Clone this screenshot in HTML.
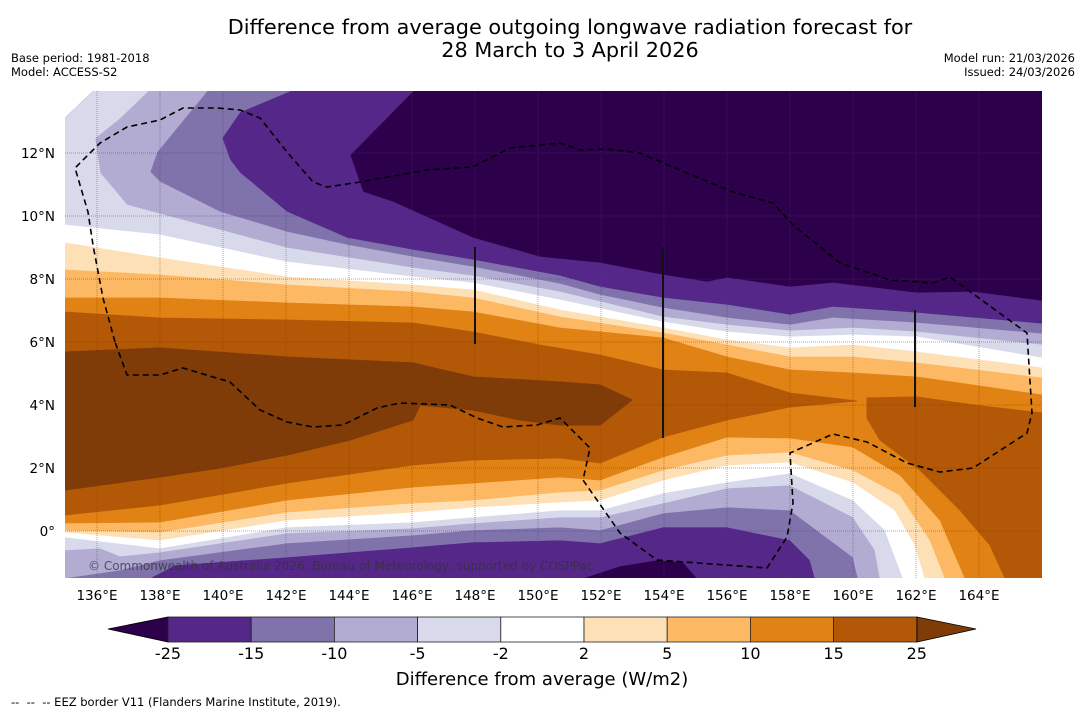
<!DOCTYPE html>
<html><head><meta charset="utf-8"><style>
html,body{margin:0;padding:0;background:#fff;}
svg{display:block;font-family:"DejaVu Sans","Liberation Sans",sans-serif;}
</style></head><body>
<svg id="chart" width="1085" height="713" viewBox="0 0 1085 713" xmlns="http://www.w3.org/2000/svg">
<defs><clipPath id="mapclip"><polygon points="65,118 93,91 1042,91 1042,578 65,578"/></clipPath></defs>
<g>
<text x="570" y="34" font-size="20.8" text-anchor="middle" fill="#000">Difference from average outgoing longwave radiation forecast for</text>
<text x="570" y="57" font-size="20.8" text-anchor="middle" fill="#000">28 March to 3 April 2026</text>
</g>
<text x="11" y="62" font-size="11.5">Base period: 1981-2018</text>
<text x="11" y="76" font-size="11.5">Model: ACCESS-S2</text>
<text x="1075" y="62" font-size="11.5" text-anchor="end">Model run: 21/03/2026</text>
<text x="1075" y="76" font-size="11.5" text-anchor="end">Issued: 24/03/2026</text>
<g id="map" clip-path="url(#mapclip)"></g>
<g id="overlay"></g>
<g id="axes"></g>
<g id="cbar"></g>
<text x="542" y="685" font-size="18" text-anchor="middle">Difference from average (W/m2)</text>
<text x="11" y="706" font-size="11.5" xml:space="preserve">--  --  -- EEZ border V11 (Flanders Marine Institute, 2019).</text>
</svg>
<script>
// ---- data ----
const levels = [-25,-15,-10,-5,-2,2,5,10,15,25];
const bandColors = ["#2d004b","#542788","#8073ac","#b2abd2","#d8daeb","#ffffff","#fee0b6","#fdb863","#e08214","#b35806","#7f3b08"];
const cbarLabels = ["-25","-15","-10","-5","-2","2","5","10","15","25"];
const lonTicks = [136,138,140,142,144,146,148,150,152,154,156,158,160,162,164];
const latTicks = [0,2,4,6,8,10,12];
// contour boundaries (map pixel coordinates), top edge of region > level
const topM25 = [[65,91],[413,91],[350,155],[363,192],[393,202],[473,238],[540,257],[600,263],[663,275],[707,282],[727,278],[790,287],[833,283],[917,293],[973,292],[1042,301]];
const topM15 = [[65,91],[290,91],[240,112],[222,138],[230,160],[240,173],[287,212],[347,238],[413,250],[473,260],[560,276],[600,287],[663,298],[727,305],[790,315],[833,307],[917,313],[1042,324]];
const topM10 = [[65,91],[207,91],[157,152],[150,172],[160,182],[220,212],[287,232],[347,245],[413,257],[473,267],[560,284],[600,295],[663,308],[727,318],[790,325],[833,318],[917,323],[1042,334]];
const topM5 = [[65,91],[148,91],[120,118],[95,138],[100,173],[127,205],[160,214],[220,230],[287,248],[413,268],[473,276],[560,292],[663,317],[727,325],[790,331],[853,328],[917,332],[1042,345]];
const topM2 = [[65,225],[160,235],[287,262],[413,277],[473,283],[560,300],[663,322],[727,332],[790,337],[853,335],[917,337],[1042,358]];
const topP2 = [[65,243],[160,258],[287,277],[413,285],[473,290],[560,310],[663,328],[727,340],[790,348],[853,345],[917,352],[1042,368]];
const topP5 = [[65,270],[160,275],[287,285],[413,292],[473,298],[560,317],[663,333],[727,345],[790,357],[853,357],[917,363],[1042,378]];
const topP10 = [[65,298],[160,298],[287,303],[413,307],[473,312],[560,328],[663,338],[727,357],[790,370],[853,373],[917,377],[1042,395]];
const topP15 = [[65,312],[160,318],[287,320],[413,323],[473,332],[540,345],[600,355],[663,370],[727,373],[790,393],[857,401]];
// bottom edges (right to left)
const botM25 = [[1042,578],[697,578],[683,562],[657,560],[620,566],[583,578],[65,578]];
const botM15 = [[1042,578],[815,578],[810,560],[790,540],[727,527],[663,527],[600,543],[560,540],[473,542],[413,547],[287,557],[175,565],[150,578],[65,578]];
const botM10 = [[1042,578],[858,578],[853,557],[790,510],[727,507],[663,513],[600,530],[560,527],[473,530],[413,535],[287,543],[160,560],[120,570],[65,578]];
const botM5 = [[1042,578],[880,578],[875,550],[853,517],[790,485],[727,488],[663,503],[600,517],[560,517],[473,523],[413,528],[287,533],[160,552],[120,556],[100,548],[65,550]];
const botM2 = [[1042,578],[903,578],[885,530],[853,500],[790,473],[727,482],[663,493],[600,510],[560,510],[473,517],[413,522],[287,527],[160,548],[65,537]];
const botP2 = [[1042,578],[925,578],[915,545],[895,510],[853,482],[790,462],[727,465],[663,480],[600,500],[560,502],[473,507],[413,512],[287,520],[160,540],[65,532]];
const botP5 = [[1042,578],[945,578],[930,540],[900,495],[853,470],[790,452],[727,455],[663,470],[600,490],[560,492],[473,500],[413,503],[287,512],[160,532],[65,530]];
const botP10 = [[1042,578],[965,578],[940,520],[900,475],[853,447],[790,438],[727,437],[663,457],[600,480],[560,477],[473,483],[413,487],[287,500],[160,522],[65,523]];
const botP15 = [[857,401],[790,407],[727,420],[663,437],[600,463],[560,458],[473,460],[413,465],[287,483],[160,505],[65,515]];
const eastP15 = [[867,398],[917,397],[973,405],[1042,413],[1042,578],[1005,578],[990,545],[960,510],[920,470],[880,440],[867,418]];
const coreP25 = [[65,352],[160,348],[287,357],[413,363],[473,377],[560,382],[600,385],[632,400],[600,425],[560,425],[520,420],[473,410],[420,405],[413,420],[350,440],[287,455],[220,468],[160,477],[65,490]];
const eezPath = [[115,342],[103,298],[93,245],[88,212],[75,168],[100,143],[127,127],[160,120],[183,108],[217,108],[240,110],[260,118],[287,152],[313,182],[327,187],[360,182],[427,170],[473,167],[510,148],[560,143],[580,150],[607,149],[640,153],[680,170],[733,192],[773,203],[793,225],[840,263],[890,280],[933,283],[950,277],[1027,333],[1032,413],[1027,433],[973,468],[940,472],[907,463],[867,442],[833,434],[790,453],[793,503],[787,537],[767,568],[657,560],[620,533],[583,480],[590,448],[560,418],[537,425],[503,427],[477,418],[450,405],[400,403],[377,408],[343,425],[313,427],[287,422],[260,410],[230,382],[183,368],[160,375],[127,375],[115,342]];

// ---- scales ----
const xLon = lon => 97 + (lon-136)*31.5;
const yLat = lat => 531 - lat*31.5;
const NS = "http://www.w3.org/2000/svg";
const pts = a => a.map(p=>p[0]+","+p[1]).join(" ");
function mk(tag, parent){ const e=document.createElementNS(NS,tag); parent.appendChild(e); return e; }

const map = document.getElementById('map');
const bg = mk('rect', map);
bg.setAttribute('x',65); bg.setAttribute('y',91); bg.setAttribute('width',977); bg.setAttribute('height',487); bg.setAttribute('fill',bandColors[0]);


const tops = [topM25,topM15,topM10,topM5,topM2,topP2,topP5,topP10,topP15];
const bots = [botM25,botM15,botM10,botM5,botM2,botP2,botP5,botP10,botP15];
tops.forEach((t,i)=>{
  const poly = mk('polygon', map);
  let ring = t.slice();
  const last = t[t.length-1];
  if (last[0] >= 1042) ring.push([1042,578]);
  ring = ring.concat(bots[i]);
  poly.setAttribute('points', pts(ring));
  poly.setAttribute('fill', bandColors[i+1]);
  poly.setAttribute('stroke', bandColors[i+1]);
  poly.setAttribute('stroke-width', '0.8');
  
  
});
const east = mk('polygon', map);
east.setAttribute('points', pts(eastP15)); east.setAttribute('fill', bandColors[9]); east.setAttribute('stroke', bandColors[9]);


const core = mk('polygon', map);
core.setAttribute('points', pts(coreP25)); core.setAttribute('fill', bandColors[10]); core.setAttribute('stroke', bandColors[10]);



// gridlines
lonTicks.forEach(l=>{
  const g = mk('line', map);
  g.setAttribute('x1',xLon(l)); g.setAttribute('x2',xLon(l)); g.setAttribute('y1',91); g.setAttribute('y2',578);
  g.setAttribute('stroke','#444'); g.setAttribute('stroke-opacity','0.45'); g.setAttribute('stroke-dasharray','1,1');
  
  
});
latTicks.forEach(l=>{
  const g = mk('line', map);
  g.setAttribute('x1',65); g.setAttribute('x2',1042); g.setAttribute('y1',yLat(l)); g.setAttribute('y2',yLat(l));
  g.setAttribute('stroke','#444'); g.setAttribute('stroke-opacity','0.45'); g.setAttribute('stroke-dasharray','1,1');
  
  
});

// overlay: EEZ dashed path, solid segments, copyright
const ov = document.getElementById('overlay');
const eez = mk('polyline', ov);
eez.setAttribute('points', pts(eezPath)); eez.setAttribute('fill','none'); eez.setAttribute('stroke','#000');
eez.setAttribute('stroke-width','1.6'); eez.setAttribute('stroke-dasharray','6,4');


[[475,247,344],[663,247,438],[915,310,407]].forEach(s=>{
  const l = mk('line', ov);
  l.setAttribute('x1',s[0]); l.setAttribute('x2',s[0]); l.setAttribute('y1',s[1]); l.setAttribute('y2',s[2]);
  l.setAttribute('stroke','#111'); l.setAttribute('stroke-width','2');
  
  
});
const cp = mk('text', ov);
cp.setAttribute('x',88); cp.setAttribute('y',570); cp.setAttribute('font-size','12'); cp.setAttribute('fill','#333'); cp.setAttribute('fill-opacity','0.75');
cp.textContent = "© Commonwealth of Australia 2026, Bureau of Meteorology, supported by COSPPac";



// axes labels
const ax = document.getElementById('axes');
lonTicks.forEach(l=>{
  const t = mk('text', ax);
  t.setAttribute('x', xLon(l)); t.setAttribute('y', 600); t.setAttribute('font-size','13.5'); t.setAttribute('text-anchor','middle');
  t.textContent = l + "°E";
  
  
});
latTicks.forEach(l=>{
  const t = mk('text', ax);
  t.setAttribute('x', 55); t.setAttribute('y', yLat(l)+5); t.setAttribute('font-size','13.5'); t.setAttribute('text-anchor','end');
  t.textContent = l === 0 ? "0°" : l + "°N";
  
  
});

// colorbar
const cb = document.getElementById('cbar');
const cbX = i => 168 + i*83.2;
const lt = mk('polygon', cb);
lt.setAttribute('points','108,629 168,617 168,642'); lt.setAttribute('fill',bandColors[0]); lt.setAttribute('stroke','#000'); lt.setAttribute('stroke-width','0.8');


for (let i=0;i<levels.length-1;i++){
  const r = mk('rect', cb);
  r.setAttribute('x',cbX(i)); r.setAttribute('y',617); r.setAttribute('width',83.2); r.setAttribute('height',25);
  r.setAttribute('fill',bandColors[i+1]); r.setAttribute('stroke','#222'); r.setAttribute('stroke-width','0.8');
  
  
}
const rt = mk('polygon', cb);
rt.setAttribute('points','917,617 976,629 917,642'); rt.setAttribute('fill',bandColors[10]); rt.setAttribute('stroke','#000'); rt.setAttribute('stroke-width','0.8');


cbarLabels.forEach((s,i)=>{
  const t = mk('text', cb);
  t.setAttribute('x', cbX(i)); t.setAttribute('y', 659); t.setAttribute('font-size','16'); t.setAttribute('text-anchor','middle');
  t.textContent = s;
  
  
});
</script>
</body></html>
